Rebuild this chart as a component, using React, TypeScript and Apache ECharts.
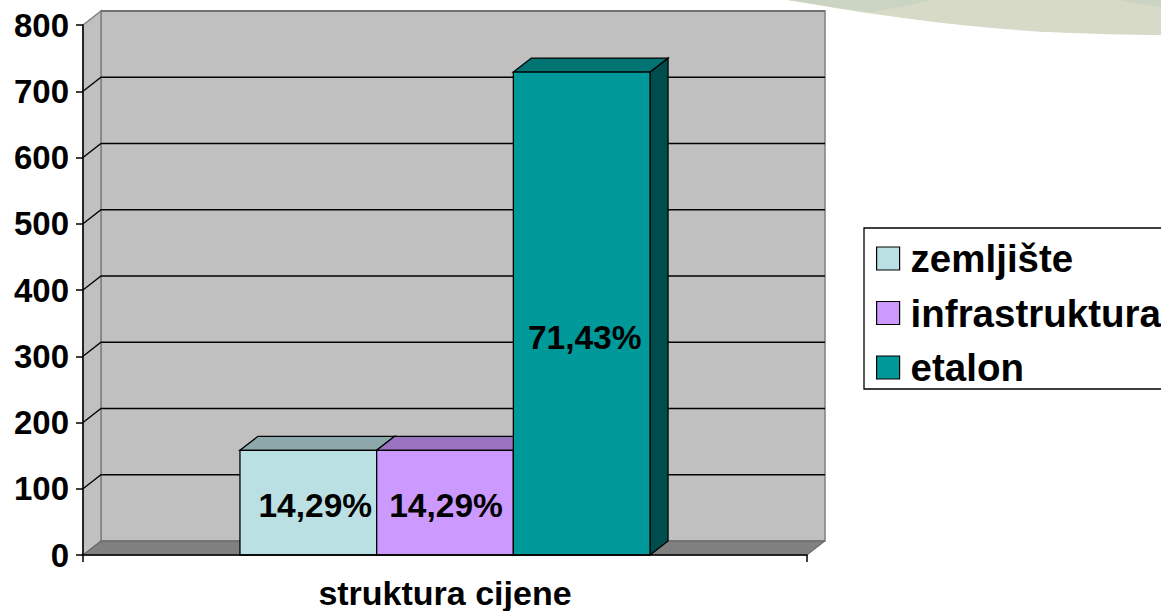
import React, { useEffect, useRef } from "react";
import * as echarts from "echarts";

const categories = ["struktura cijene"];
const seriesNames = ["zemljište", "infrastruktura", "etalon"];
const zemljiste = [158];
const infrastruktura = [158];
const etalon = [729];
const seriesValues = [zemljiste, infrastruktura, etalon];
const percentLabels = ["14,29%", "14,29%", "71,43%"];
const yTicks = [100, 200, 300, 400, 500, 600, 700];

const FRONT = ["#BBE0E3", "#CC99FF", "#009999"];
const TOP = ["#8CA8AA", "#9973BF", "#007373"];
const SIDE = ["#5E7072", "#664D80", "#004D4D"];
const LABEL_LEVEL = [75, 75, 328];
const LABEL_SHIFT = [7, 1, 3];
const DX = 18;
const DY = -14;
const BAR_FRACTION = 0.1888;
const FONT = "Liberation Sans";

echarts.graphic.registerShape(
  "swooshMain",
  echarts.graphic.extendPath("M788 0 C850 11 950 27 1050 32 C1090 34 1130 35 1161 35 L1161 0 Z", {})
);
echarts.graphic.registerShape(
  "swooshLeft",
  echarts.graphic.extendPath("M788 0 L933 0 C910 5 890 9 870 12 C840 8 815 4 788 0 Z", {})
);
echarts.graphic.registerShape(
  "swooshRight",
  echarts.graphic.extendPath("M1120 0 L1161 0 L1161 7 C1148 5 1133 3 1120 0 Z", {})
);

const renderWalls = (params: any) => {
  const { x, y, width, height } = params.coordSys;
  const b = y + height;
  const r = x + width;
  const wallStroke = { stroke: "#808080", lineWidth: 1.5 };
  return {
    type: "group",
    children: [
      {
        type: "polygon",
        shape: { points: [[x + DX, y + DY], [r + DX, y + DY], [r + DX, b + DY], [x + DX, b + DY]] },
        style: { fill: "#C0C0C0", ...wallStroke },
      },
      {
        type: "polygon",
        shape: { points: [[x, y], [x + DX, y + DY], [x + DX, b + DY], [x, b]] },
        style: { fill: "#C0C0C0", ...wallStroke },
      },
      {
        type: "polygon",
        shape: { points: [[x, b], [x + DX, b + DY], [r + DX, b + DY], [r, b]] },
        style: { fill: "#808080", stroke: "#606060", lineWidth: 1 },
      },
      {
        type: "line",
        shape: { x1: x + DX, y1: y + DY, x2: r + DX, y2: y + DY },
        style: { stroke: "#707070", lineWidth: 2 },
      },
    ],
  };
};

const renderGridLine = (params: any, api: any) => {
  const p = api.coord([0, api.value(1)]);
  const { x, width } = params.coordSys;
  return {
    type: "polyline",
    shape: { points: [[x, p[1]], [x + DX, p[1] + DY], [x + width + DX, p[1] + DY]] },
    style: { stroke: "#000000", lineWidth: 1.3, fill: "none" },
  };
};

const makeBarRenderer = (i: number) => (_params: any, api: any) => {
  const base = api.coord([0, 0]);
  const top = api.coord([0, api.value(1)]);
  const band = api.size([1, 0])[0];
  const w = band * BAR_FRACTION;
  const x0 = base[0] - 1.5 * w + i * w;
  const x1 = x0 + w;
  const stroke = { stroke: "#000000", lineWidth: 1.3, lineJoin: "miter" };
  const labelY = api.coord([0, LABEL_LEVEL[i]])[1];
  return {
    type: "group",
    children: [
      {
        type: "polygon",
        shape: { points: [[x1, base[1]], [x1 + DX, base[1] + DY], [x1 + DX, top[1] + DY], [x1, top[1]]] },
        style: { fill: SIDE[i], ...stroke },
      },
      {
        type: "polygon",
        shape: { points: [[x0, top[1]], [x0 + DX, top[1] + DY], [x1 + DX, top[1] + DY], [x1, top[1]]] },
        style: { fill: TOP[i], ...stroke },
      },
      {
        type: "rect",
        shape: { x: x0, y: top[1], width: w, height: base[1] - top[1] },
        style: { fill: FRONT[i], ...stroke },
      },
      {
        type: "text",
        style: {
          text: percentLabels[i],
          x: x0 + w / 2 + LABEL_SHIFT[i],
          y: labelY,
          align: "center",
          verticalAlign: "middle",
          fill: "#000000",
          fontFamily: FONT,
          fontWeight: "bold",
          fontSize: 33.5,
        },
      },
    ],
  };
};

export default function App() {
  const ref = useRef<HTMLDivElement>(null);
  useEffect(() => {
    const chart = echarts.init(ref.current!, undefined, { renderer: "svg" });
    chart.setOption({
      animation: false,
      backgroundColor: "#FFFFFF",
      grid: { left: 83, right: 354, top: 25, bottom: 56, outerBoundsMode: "none" },
      graphic: [
        { type: "swooshMain", x: 0, y: 0, style: { fill: "#D6DAC6" } },
        { type: "swooshLeft", x: 0, y: 0, style: { fill: "#CBD3C3" } },
        { type: "swooshRight", x: 0, y: 0, style: { fill: "#CBD3C3" } },
        {
          type: "rect",
          shape: { x: 864, y: 228, width: 320, height: 161 },
          style: { fill: "#FFFFFF", stroke: "#000000", lineWidth: 1.3 },
        },
      ],
      legend: {
        orient: "vertical",
        left: 876,
        top: 239,
        padding: 0,
        itemWidth: 23,
        itemHeight: 23,
        itemGap: 15.5,
        icon: "rect",
        selectedMode: false,
        data: seriesNames.map((name, i) => ({
          name,
          icon: "rect",
          itemStyle: { color: FRONT[i], borderColor: "#000000", borderWidth: 1.2 },
        })),
        textStyle: {
          fontFamily: FONT,
          fontWeight: "bold",
          fontSize: 38.5,
          color: "#000000",
          padding: [0, 0, 0, 6],
        },
      },
      xAxis: {
        type: "category",
        data: categories,
        boundaryGap: true,
        z: 6,
        axisLine: { lineStyle: { color: "#000000", width: 1.5 } },
        axisTick: { show: true, length: 7, lineStyle: { color: "#000000", width: 1.5 } },
        axisLabel: {
          fontFamily: FONT,
          fontWeight: "bold",
          fontSize: 34,
          lineHeight: 16,
          color: "#000000",
          margin: 30,
        },
      },
      yAxis: {
        type: "value",
        min: 0,
        max: 800,
        interval: 100,
        z: 6,
        splitLine: { show: false },
        axisLine: { show: true, lineStyle: { color: "#000000", width: 1.5 } },
        axisTick: { show: true, length: 7, lineStyle: { color: "#000000", width: 1.5 } },
        axisLabel: {
          fontFamily: FONT,
          fontWeight: "bold",
          fontSize: 33,
          color: "#000000",
          margin: 14,
        },
      },
      series: [
        {
          type: "custom",
          name: "walls",
          coordinateSystem: "cartesian2d",
          clip: false,
          silent: true,
          z: 1,
          data: [[0, 0]],
          renderItem: renderWalls,
        },
        {
          type: "custom",
          name: "gridlines",
          coordinateSystem: "cartesian2d",
          clip: false,
          silent: true,
          z: 2,
          data: yTicks.map((t) => [0, t]),
          renderItem: renderGridLine,
        },
        ...seriesNames.map((name, i) => ({
          type: "custom",
          name,
          coordinateSystem: "cartesian2d",
          clip: false,
          z: 3 + i,
          itemStyle: { color: FRONT[i] },
          data: seriesValues[i].map((v, c) => [c, v]),
          renderItem: makeBarRenderer(i),
        })),
      ],
    });
    return () => chart.dispose();
  }, []);
  return (
    <div
      ref={ref}
      style={{ position: "absolute", left: 0, top: 0, width: 1161, height: 611 }}
    />
  );
}
